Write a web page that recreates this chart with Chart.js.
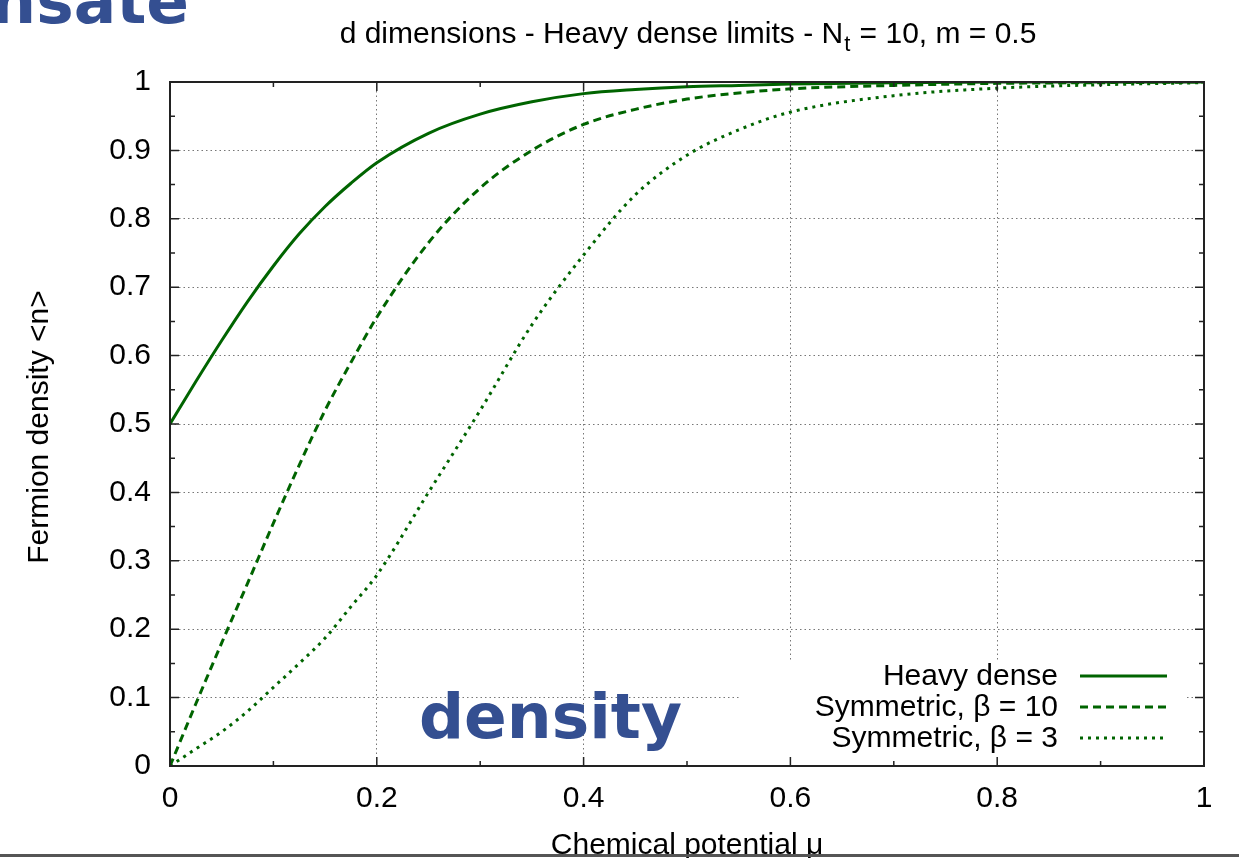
<!DOCTYPE html>
<html>
<head>
<meta charset="utf-8">
<script src="https://cdn.jsdelivr.net/npm/chart.js@4.4.1/dist/chart.umd.min.js"></script>
<style>
  html, body { margin: 0; padding: 0; background: #fff; }
  #wrap { width: 1239px; height: 858px; position: relative; }
</style>
</head>
<body>
<div id="wrap"><canvas id="grafico"></canvas></div>
<script>
// chemical potential (x) and densities
const mu =        [0, 0.025, 0.05, 0.075, 0.1, 0.125, 0.15, 0.175, 0.2, 0.25, 0.3, 0.35, 0.4, 0.45, 0.5, 0.55, 0.6, 0.7, 0.8, 0.9, 1.0];
const heavyDense = [0.5, 0.562, 0.622, 0.679, 0.731, 0.778, 0.818, 0.852, 0.882, 0.925, 0.953, 0.971, 0.983, 0.989, 0.993, 0.995, 0.997, 0.999, 1.0, 1.0, 1.0];
const symBeta10 =  [0, 0.091, 0.18, 0.267, 0.355, 0.44, 0.52, 0.59, 0.656, 0.765, 0.845, 0.9, 0.938, 0.96, 0.975, 0.984, 0.99, 0.995, 0.998, 0.999, 1.0];
const symBeta3 =   [0, 0.025, 0.05, 0.08, 0.115, 0.15, 0.187, 0.233, 0.279, 0.4, 0.52, 0.645, 0.747, 0.835, 0.893, 0.93, 0.956, 0.98, 0.991, 0.996, 0.999];

const seriesLabels = ['Heavy dense', 'Symmetric, \u03b2 = 10', 'Symmetric, \u03b2 = 3'];
const xTickValues = [0, 0.2, 0.4, 0.6, 0.8, 1];
const yTickValues = [0, 0.1, 0.2, 0.3, 0.4, 0.5, 0.6, 0.7, 0.8, 0.9, 1];

const green = '#006400';
const font = '"Liberation Sans", Arial, sans-serif';
const fs = 30;

function pts(ys) {
  return mu.map((x, i) => ({x: x, y: ys[i]}));
}

// title, axis titles, legend, frame with gnuplot-like inner ticks
const extras = {
  id: 'extras',
  afterDatasetsDraw(chart) {
    const ctx = chart.ctx;
    const a = chart.chartArea;
    const xs = chart.scales.x, ys = chart.scales.y;
    ctx.save();

    // legend box
    ctx.fillStyle = '#fff';
    ctx.fillRect(740, 660, 447, a.bottom - 660);
    ctx.font = fs + 'px ' + font;
    ctx.textAlign = 'right';
    ctx.textBaseline = 'middle';
    chart.data.datasets.forEach((ds, i) => {
      const yy = 677 + i * 31;
      ctx.fillStyle = '#000';
      ctx.fillText(ds.label, 1058, yy);
      ctx.strokeStyle = ds.borderColor;
      ctx.lineWidth = ds.borderWidth;
      ctx.setLineDash(ds.borderDash || []);
      ctx.beginPath();
      ctx.moveTo(1080, yy - 1);
      ctx.lineTo(1167, yy - 1);
      ctx.stroke();
    });
    ctx.setLineDash([]);

    // frame
    ctx.strokeStyle = '#222';
    ctx.lineWidth = 2;
    ctx.strokeRect(a.left, a.top, a.right - a.left, a.bottom - a.top);

    // ticks
    ctx.lineWidth = 1.5;
    ctx.beginPath();
    for (let i = 0; i <= 10; i++) {
      const v = i / 10;
      const px = xs.getPixelForValue(v);
      const len = (i % 2 === 0) ? 9 : 5;
      ctx.moveTo(px, a.bottom); ctx.lineTo(px, a.bottom - len);
      ctx.moveTo(px, a.top); ctx.lineTo(px, a.top + len);
    }
    for (let i = 0; i <= 20; i++) {
      const v = i / 20;
      const py = ys.getPixelForValue(v);
      const len = (i % 2 === 0) ? 9 : 5;
      ctx.moveTo(a.left, py); ctx.lineTo(a.left + len, py);
      ctx.moveTo(a.right, py); ctx.lineTo(a.right - len, py);
    }
    ctx.stroke();

    // title with subscript
    ctx.fillStyle = '#000';
    ctx.textAlign = 'left';
    ctx.textBaseline = 'alphabetic';
    const p1 = 'd dimensions - Heavy dense limits - N';
    const p2 = 't';
    const p3 = ' = 10, m = 0.5';
    ctx.font = fs + 'px ' + font;
    const w1 = ctx.measureText(p1).width;
    const w3 = ctx.measureText(p3).width;
    ctx.font = '22px ' + font;
    const w2 = ctx.measureText(p2).width;
    let tx = (a.left + a.right) / 2 - (w1 + w2 + w3) / 2;
    ctx.font = fs + 'px ' + font;
    ctx.fillText(p1, tx, 43);
    ctx.font = '22px ' + font;
    ctx.fillText(p2, tx + w1 + 1, 51);
    ctx.font = fs + 'px ' + font;
    ctx.fillText(p3, tx + w1 + w2 + 2, 43);

    // axis titles
    ctx.textAlign = 'center';
    ctx.textBaseline = 'middle';
    ctx.fillText('Chemical potential \u03bc', (a.left + a.right) / 2, 846);
    ctx.save();
    ctx.translate(40, 427);
    ctx.rotate(-Math.PI / 2);
    ctx.fillText('Fermion density <n>', 0, 0);
    ctx.restore();

    // slide leftovers
    ctx.fillStyle = '#344f91';
    ctx.font = 'bold 63px "DejaVu Sans", Verdana, sans-serif';
    ctx.textAlign = 'left';
    ctx.textBaseline = 'alphabetic';
    ctx.fillText('density', 419, 738);
    ctx.textAlign = 'right';
    ctx.fillText('nsate', 189, 23);

    ctx.fillStyle = '#555';
    ctx.fillRect(0, 854, 1239, 3);
    ctx.restore();
  }
};

const config = {
  type: 'line',
  data: {
    datasets: [
      {label: seriesLabels[0], data: pts(heavyDense), borderColor: green, borderWidth: 3, borderDash: []},
      {label: seriesLabels[1], data: pts(symBeta10), borderColor: green, borderWidth: 3, borderDash: [8, 5]},
      {label: seriesLabels[2], data: pts(symBeta3), borderColor: green, borderWidth: 3, borderDash: [3, 5]}
    ]
  },
  options: {
    responsive: true,
    maintainAspectRatio: false,
    animation: false,
    elements: {point: {radius: 0}, line: {cubicInterpolationMode: 'monotone'}},
    layout: {padding: {top: 82, right: 35, left: 0, bottom: 0}},
    plugins: {legend: {display: false}, title: {display: false}, tooltip: {enabled: false}},
    scales: {
      x: {
        type: 'linear', min: 0, max: 1,
        afterFit: s => { s.height = 92; },
        afterBuildTicks: s => { s.ticks = xTickValues.map(v => ({value: v})); },
        ticks: {color: '#000', padding: 15, maxRotation: 0, font: {family: font, size: fs},
                callback: v => String(+v.toFixed(1))},
        grid: {drawTicks: false, color: c => (c.tick.value === 0 || c.tick.value === 1) ? 'rgba(0,0,0,0)' : '#777', lineWidth: 1},
        border: {display: false, dash: [1.5, 3]}
      },
      y: {
        min: 0, max: 1,
        afterFit: s => { s.width = 170; },
        afterBuildTicks: s => { s.ticks = yTickValues.map(v => ({value: v})); },
        ticks: {color: '#000', padding: 19, font: {family: font, size: fs},
                callback: v => String(+v.toFixed(1))},
        grid: {drawTicks: false, color: c => (c.tick.value === 0 || c.tick.value === 1) ? 'rgba(0,0,0,0)' : '#777', lineWidth: 1},
        border: {display: false, dash: [1.5, 3]}
      }
    }
  },
  plugins: [extras]
};

const myChart = new Chart(document.getElementById('grafico'), config);
</script>
</body>
</html>
